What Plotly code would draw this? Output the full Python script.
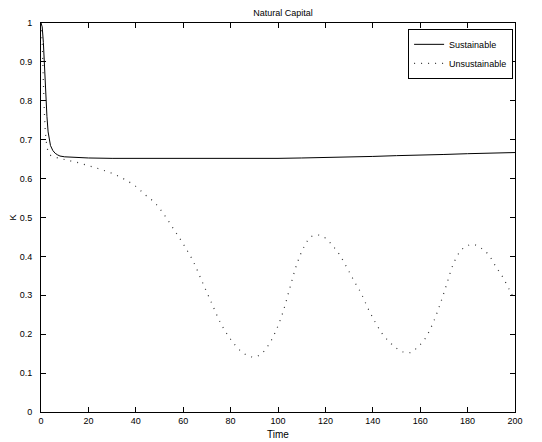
import plotly.graph_objects as go

# Sustainable natural capital
t_sus = [0, 0.5, 1, 1.5, 2, 2.5, 3, 3.5, 4, 5, 6, 7, 8, 10, 12, 15, 20, 30, 40, 50,
         60, 70, 80, 90, 100, 110, 120, 130, 140, 150, 160, 170, 180, 190, 200]
k_sus = [1.0, 0.99, 0.95, 0.88, 0.82, 0.76, 0.72, 0.70, 0.685, 0.672, 0.665, 0.661,
         0.658, 0.656, 0.655, 0.654, 0.653, 0.652, 0.652, 0.651, 0.651, 0.651, 0.651,
         0.652, 0.652, 0.653, 0.654, 0.655, 0.657, 0.659, 0.660, 0.662, 0.664, 0.665, 0.667]

# Unsustainable natural capital
t_uns = [0, 0.5, 1, 1.5, 2, 3, 4, 6, 8, 10, 12, 15, 19, 23, 27, 31, 35, 40, 44, 48,
         52, 56, 60, 64, 68, 72, 76, 80, 84, 87, 90, 93, 96, 99, 102, 105, 108, 111,
         114, 117, 120, 123, 126, 129, 132, 135, 138, 141, 144, 147, 150, 153, 156,
         159, 162, 165, 168, 171, 174, 177, 180, 183, 186, 189, 192, 195, 198, 200]
k_uns = [1.0, 0.95, 0.85, 0.76, 0.71, 0.67, 0.66, 0.655, 0.652, 0.649, 0.646, 0.642,
         0.635, 0.628, 0.620, 0.611, 0.599, 0.580, 0.558, 0.538, 0.507, 0.470, 0.432,
         0.390, 0.335, 0.280, 0.226, 0.187, 0.158, 0.146, 0.141, 0.150, 0.172, 0.207,
         0.255, 0.319, 0.381, 0.425, 0.451, 0.455, 0.447, 0.428, 0.404, 0.372, 0.338,
         0.306, 0.266, 0.231, 0.201, 0.180, 0.164, 0.154, 0.153, 0.167, 0.188, 0.223,
         0.270, 0.325, 0.381, 0.414, 0.428, 0.430, 0.420, 0.403, 0.373, 0.345, 0.310, 0.290]

x_ticks = [0, 20, 40, 60, 80, 100, 120, 140, 160, 180, 200]
y_ticks = [0, 0.1, 0.2, 0.3, 0.4, 0.5, 0.6, 0.7, 0.8, 0.9, 1]
y_labels = ["0", "0.1", "0.2", "0.3", "0.4", "0.5", "0.6", "0.7", "0.8", "0.9", "1"]

FONT = "Liberation Sans, Arial, Helvetica, sans-serif"

fig = go.Figure()
fig.add_trace(go.Scatter(x=t_sus, y=k_sus, mode="lines", name="Sustainable",
                         line=dict(color="black", width=1)))
fig.add_trace(go.Scatter(x=t_uns, y=k_uns, mode="lines", name="Unsustainable",
                         line=dict(color="#333", width=1.2, dash="1px,6px", shape="spline")))

axis_common = dict(showline=True, linecolor="black", linewidth=1, mirror="allticks",
                   ticks="inside", ticklen=5, tickcolor="black", showgrid=False,
                   zeroline=False, automargin=False,
                   tickfont=dict(family=FONT, size=9, color="black"))

# The page body adds an 8px offset, so the figure is sized to the visible area.
fig.update_layout(
    width=534, height=434,
    margin=dict(l=33, r=27, t=15, b=30),
    paper_bgcolor="white", plot_bgcolor="white",
    font=dict(family=FONT, size=9, color="black"),
    title=dict(text="Natural Capital", x=0.515, xanchor="center", y=0.988, yanchor="middle",
               font=dict(family=FONT, size=9, color="black")),
    xaxis=dict(range=[0, 200], tickvals=x_ticks, **axis_common),
    yaxis=dict(range=[0, 1], tickvals=y_ticks, ticktext=y_labels, ticklabelstandoff=6,
               title=dict(text="K", standoff=4, font=dict(family=FONT, size=9)),
               **axis_common),
    legend=dict(x=0.996, xanchor="right", y=0.985, yanchor="top",
                bgcolor="white", bordercolor="black", borderwidth=1,
                font=dict(family=FONT, size=9), tracegroupgap=0,
                itemwidth=30),
    showlegend=True,
    annotations=[dict(text="Time", xref="paper", yref="paper", x=0.5, y=0,
                      xanchor="center", yanchor="top", yshift=-15, showarrow=False,
                      font=dict(family=FONT, size=10, color="black"))],
)

fig.write_html("out.html")
